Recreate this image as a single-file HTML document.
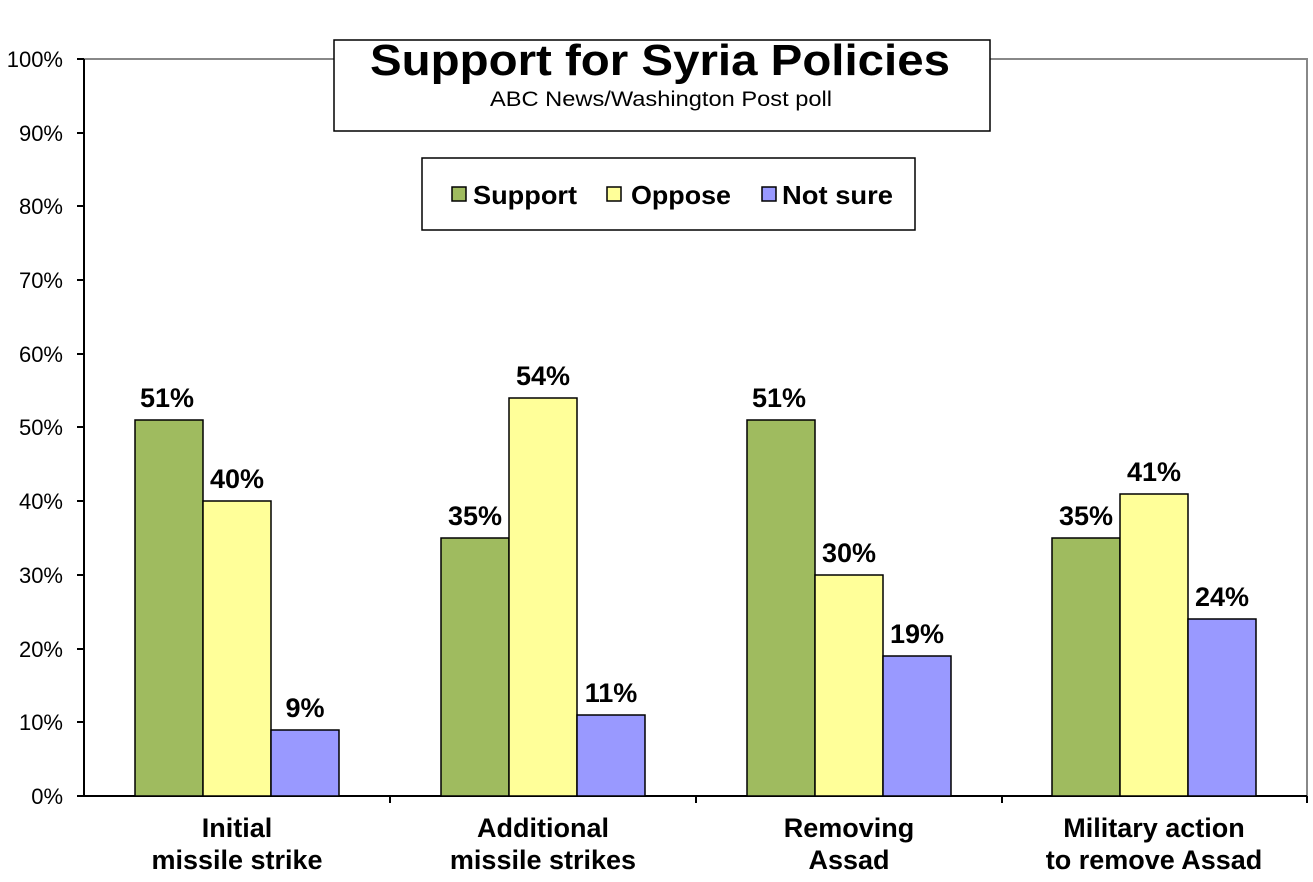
<!DOCTYPE html>
<html><head><style>body{margin:0;background:#fff}</style></head><body>
<svg width="1313" height="877" xmlns="http://www.w3.org/2000/svg" font-family="Liberation Sans, Arial, sans-serif">
<rect width="1313" height="877" fill="#fff"/>
<polyline points="84,59 1307,59 1307,796" fill="none" stroke="#888" stroke-width="2"/>
<g font-size="22" fill="#000" text-anchor="end">
<text x="63" y="67">100%</text><text x="63" y="141">90%</text><text x="63" y="214">80%</text><text x="63" y="288">70%</text><text x="63" y="362">60%</text><text x="63" y="435">50%</text><text x="63" y="509">40%</text><text x="63" y="583">30%</text><text x="63" y="657">20%</text><text x="63" y="730">10%</text><text x="63" y="804">0%</text>
</g>
<g stroke="#000" stroke-width="2">
<line x1="84" y1="59" x2="84" y2="796"/><line x1="77" y1="796" x2="1307" y2="796"/>
<line x1="77" y1="59" x2="84" y2="59"/><line x1="77" y1="133" x2="84" y2="133"/><line x1="77" y1="206" x2="84" y2="206"/><line x1="77" y1="280" x2="84" y2="280"/><line x1="77" y1="354" x2="84" y2="354"/><line x1="77" y1="427" x2="84" y2="427"/><line x1="77" y1="501" x2="84" y2="501"/><line x1="77" y1="575" x2="84" y2="575"/><line x1="77" y1="649" x2="84" y2="649"/><line x1="77" y1="722" x2="84" y2="722"/>
<line x1="390" y1="796" x2="390" y2="803"/><line x1="696" y1="796" x2="696" y2="803"/><line x1="1002" y1="796" x2="1002" y2="803"/><line x1="1307" y1="796" x2="1307" y2="803"/>
</g>
<g stroke="#000" stroke-width="1.5">
<rect x="135" y="420" width="68" height="376" fill="#9fbb5f"/>
<rect x="203" y="501" width="68" height="295" fill="#ffff99"/>
<rect x="271" y="730" width="68" height="66" fill="#9999ff"/>
<rect x="441" y="538" width="68" height="258" fill="#9fbb5f"/>
<rect x="509" y="398" width="68" height="398" fill="#ffff99"/>
<rect x="577" y="715" width="68" height="81" fill="#9999ff"/>
<rect x="747" y="420" width="68" height="376" fill="#9fbb5f"/>
<rect x="815" y="575" width="68" height="221" fill="#ffff99"/>
<rect x="883" y="656" width="68" height="140" fill="#9999ff"/>
<rect x="1052" y="538" width="68" height="258" fill="#9fbb5f"/>
<rect x="1120" y="494" width="68" height="302" fill="#ffff99"/>
<rect x="1188" y="619" width="68" height="177" fill="#9999ff"/>
</g>
<g font-size="27" font-weight="bold" text-anchor="middle">
<text x="167" y="407">51%</text><text x="237" y="488">40%</text><text x="305" y="717">9%</text>
<text x="475" y="525">35%</text><text x="543" y="385">54%</text><text x="611" y="702">11%</text>
<text x="779" y="407">51%</text><text x="849" y="562">30%</text><text x="917" y="643">19%</text>
<text x="1086" y="525">35%</text><text x="1154" y="481">41%</text><text x="1222" y="606">24%</text>
<text x="237" y="837">Initial</text><text x="237" y="869">missile strike</text>
<text x="543" y="837">Additional</text><text x="543" y="869">missile strikes</text>
<text x="849" y="837">Removing</text><text x="849" y="869">Assad</text>
<text x="1154" y="837">Military action</text><text x="1154" y="869">to remove Assad</text>
</g>
<rect x="334" y="40" width="656" height="91" fill="#fff" stroke="#000" stroke-width="1.5"/>
<text x="370" y="75" font-size="44" font-weight="bold" textLength="580" lengthAdjust="spacingAndGlyphs">Support for Syria Policies</text>
<text x="490" y="106" font-size="21" textLength="342" lengthAdjust="spacingAndGlyphs">ABC News/Washington  Post poll</text>
<rect x="422" y="158" width="493" height="72" fill="#fff" stroke="#000" stroke-width="1.5"/>
<g stroke="#000" stroke-width="1.5">
<rect x="452" y="187" width="14" height="14" fill="#9fbb5f"/>
<rect x="607" y="187" width="14" height="14" fill="#ffff99"/>
<rect x="762" y="187" width="14" height="14" fill="#9999ff"/>
</g>
<g font-size="26" font-weight="bold">
<text x="473" y="204" textLength="104" lengthAdjust="spacingAndGlyphs">Support</text><text x="631" y="204" textLength="100" lengthAdjust="spacingAndGlyphs">Oppose</text><text x="782" y="204" textLength="111" lengthAdjust="spacingAndGlyphs">Not sure</text>
</g>
</svg>
</body></html>
